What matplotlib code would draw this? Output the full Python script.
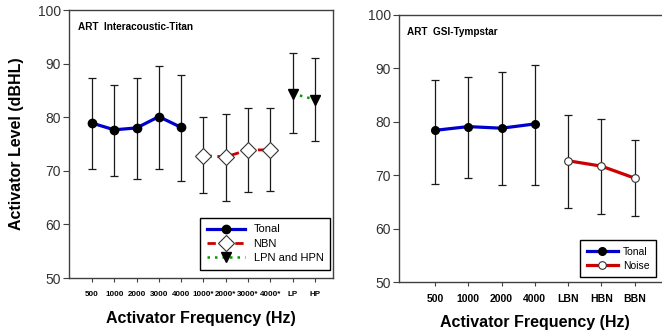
import numpy as np
import matplotlib
matplotlib.use("Agg")
import matplotlib.pyplot as plt

plt.rcParams['font.family'] = ['Liberation Sans', 'DejaVu Sans']

# ---- left panel data (Interacoustic-Titan)
left_labels = ["500", "1000", "2000", "3000", "4000", "1000*", "2000*", "3000*", "4000*", "LP", "HP"]
tonal_L = [78.9, 77.65, 78.0, 80.1, 78.1]
tonal_L_hi = [87.3, 86.05, 87.3, 89.6, 87.8]
tonal_L_lo = [70.4, 69.0, 68.5, 70.4, 68.1]
nbn_L = [72.8, 72.6, 73.9, 73.9]
nbn_L_hi = [80.0, 80.6, 81.8, 81.8]
nbn_L_lo = [65.8, 64.4, 66.0, 66.3]
lpn_L = [84.4, 83.3]
lpn_L_hi = [91.9, 91.05]
lpn_L_lo = [77.1, 75.6]

# ---- right panel data (GSI-Tympstar)
right_labels = ["500", "1000", "2000", "4000", "LBN", "HBN", "BBN"]
tonal_R = [78.4, 79.1, 78.8, 79.6]
tonal_R_hi = [87.8, 88.4, 89.25, 90.7]
tonal_R_lo = [68.4, 69.4, 68.2, 68.2]
noise_R = [72.7, 71.7, 69.45]
noise_R_hi = [81.2, 80.5, 76.5]
noise_R_lo = [63.8, 62.7, 62.3]

W, H = 662, 335
fig = plt.figure(figsize=(W / 100, H / 100), dpi=100)

spine_c = "#404040"
tick_c = "#333333"


def px_axes(x0, y0, x1, y1):
    return fig.add_axes([x0 / W, 1 - y1 / H, (x1 - x0) / W, (y1 - y0) / H])


def style(ax):
    for s in ax.spines.values():
        s.set_color(spine_c)
        s.set_linewidth(1.0)
    ax.set_ylim(50, 100)
    ax.set_yticks([50, 60, 70, 80, 90, 100])
    ax.tick_params(axis='y', direction='out', length=4, width=0.8, color=spine_c,
                   labelsize=10, labelcolor=tick_c, pad=2)


def errs(ax, x, y, lo, hi):
    y = np.array(y)
    ax.errorbar(x, y, yerr=[y - np.array(lo), np.array(hi) - y], fmt='none',
                ecolor='#1a1a1a', elinewidth=0.9, capsize=3.0, capthick=0.9, zorder=2)


# ---------------- left panel
ax1 = px_axes(69, 10, 333, 278)
style(ax1)
xL = np.arange(1, len(left_labels) + 1)
ax1.set_xlim(-0.03, 11.81)
ax1.set_xticks(xL)
ax1.set_xticklabels(left_labels, fontsize=5.8, fontweight='bold')
ax1.tick_params(axis='x', direction='out', length=3, width=0.8, color=spine_c, pad=6)

xt, xn, xp = xL[:5], xL[5:9], xL[9:]
errs(ax1, xt, tonal_L, tonal_L_lo, tonal_L_hi)
errs(ax1, xn, nbn_L, nbn_L_lo, nbn_L_hi)
errs(ax1, xp, lpn_L, lpn_L_lo, lpn_L_hi)
ax1.plot(xt, tonal_L, color='#0000cc', lw=2.3, marker='o', ms=6,
         mfc='black', mec='black', label='Tonal', zorder=3)
ax1.plot(xn, nbn_L, color='#cc0000', lw=2.0, ls=(0, (3, 2)), marker='D', ms=8,
         mfc='white', mec='#333333', mew=0.8, label='NBN', zorder=3)
ax1.plot(xp, lpn_L, color='#009900', lw=1.8, ls=(0, (1, 2)), marker='v', ms=7,
         mfc='black', mec='black', label='LPN and HPN', zorder=3)
ax1.text(0.035, 0.955, "ART  Interacoustic-Titan", transform=ax1.transAxes,
         fontsize=7.2, fontweight='bold', va='top', ha='left')
leg1 = ax1.legend(loc='lower right', bbox_to_anchor=(0.989, 0.03), fontsize=8,
                  fancybox=False, edgecolor='black', framealpha=1, numpoints=1,
                  handlelength=3.4, handletextpad=0.8, labelspacing=0.4,
                  borderpad=0.6, borderaxespad=0)
leg1.get_frame().set_linewidth(1.0)
ax1.set_ylabel("Activator Level (dBHL)", fontsize=11.5, fontweight='bold')
ax1.yaxis.set_label_coords(-0.17, 0.5)
ax1.set_xlabel("Activator Frequency (Hz)", fontsize=11.5, fontweight='bold')
ax1.xaxis.set_label_coords(0.5, -0.125)

# ---------------- right panel
ax2 = px_axes(399, 15, 668, 282)
style(ax2)
xR = np.arange(1, len(right_labels) + 1)
ax2.set_xlim(-0.08, 8.0)
ax2.set_xticks(xR)
ax2.set_xticklabels(right_labels, fontsize=7.5, fontweight='bold')
ax2.tick_params(axis='x', direction='out', length=3, width=0.8, color=spine_c, pad=6)

xt2, xn2 = xR[:4], xR[4:]
errs(ax2, xt2, tonal_R, tonal_R_lo, tonal_R_hi)
errs(ax2, xn2, noise_R, noise_R_lo, noise_R_hi)
ax2.plot(xt2, tonal_R, color='#0000cc', lw=2.3, marker='o', ms=5.5,
         mfc='black', mec='black', label='Tonal', zorder=3)
ax2.plot(xn2, noise_R, color='#cc0000', lw=2.3, marker='o', ms=5.5,
         mfc='white', mec='#333333', mew=0.8, label='Noise', zorder=3)
ax2.text(0.03, 0.955, "ART  GSI-Tympstar", transform=ax2.transAxes,
         fontsize=7.2, fontweight='bold', va='top', ha='left')
leg2 = ax2.legend(loc='lower right', bbox_to_anchor=(656 / W, 1 - 277 / H),
                  bbox_transform=fig.transFigure, fontsize=7.5,
                  fancybox=False, edgecolor='black', framealpha=1, numpoints=1,
                  handlelength=3.0, handletextpad=0.5, labelspacing=0.4,
                  borderpad=0.6, borderaxespad=0)
leg2.get_frame().set_linewidth(1.0)
ax2.set_xlabel("Activator Frequency (Hz)", fontsize=11.5, fontweight='bold')
ax2.xaxis.set_label_coords((535 - 399) / (668 - 399), -0.125)

fig.savefig("out.png", dpi=100)
